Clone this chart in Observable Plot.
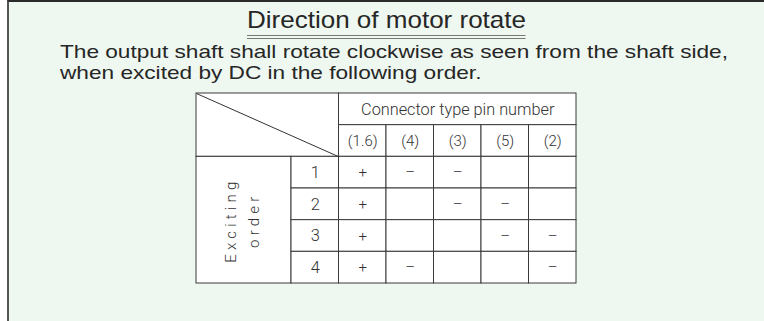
<!DOCTYPE html>
<html><head><meta charset="utf-8">
<script src="https://cdn.jsdelivr.net/npm/d3@7"></script>
<script src="https://cdn.jsdelivr.net/npm/@observablehq/plot@0.6"></script>
<style>
html,body{margin:0;padding:0;background:#fff;}
#page{position:relative;width:764px;height:321px;overflow:hidden;}
#box{position:absolute;left:7px;top:0;width:800px;height:340px;background:#eef7f0;border-left:2px solid #555;border-top:2px solid #2a2a2a;box-sizing:border-box;}
.t{position:absolute;white-space:nowrap;font-family:"Liberation Sans",Arial,sans-serif;color:#262626;transform-origin:0 0;}
#title{font-size:24px;line-height:28px;top:6px;border-bottom:4px double #777;padding:0 0 1px 0;}
#body{font-size:18.5px;line-height:21px;top:40.5px;}
#body div{height:21px;}
#page svg{position:absolute;left:0;top:0;}
</style></head>
<body>
<div id="page"><div id="box"></div>
<div class="t" id="title"></div>
<div class="t" id="body"></div>
</div>
<script>
// ---- data ----
const titleText = "Direction of motor rotate";
const bodyLines = [
  "The output shaft shall rotate clockwise as seen from the shaft side,",
  "when excited by DC in the following order."
];
const headerText = "Connector type pin number";
const pins = ["(1.6)", "(4)", "(3)", "(5)", "(2)"];
const steps = ["1", "2", "3", "4"];
const signs = [
  ["+", "–", "–", "", ""],
  ["+", "", "–", "–", ""],
  ["+", "", "", "–", "–"],
  ["+", "–", "", "", "–"]
];
const rowLabel = ["Exciting", "order"];

// ---- heading text (scaled to the reference widths) ----
const title = document.getElementById("title");
title.textContent = titleText;
title.style.left = "247px";
title.style.transform = `scaleX(${279 / title.getBoundingClientRect().width})`;

const body = document.getElementById("body");
const spans = bodyLines.map(line => {
  const dv = document.createElement("div");
  const sp = document.createElement("span");
  sp.textContent = line;
  dv.appendChild(sp);
  body.appendChild(dv);
  return sp;
});
body.style.left = "60px";
body.style.transform = `scaleX(${668 / spans[0].getBoundingClientRect().width})`;

// ---- table grid built from the arrays ----
// x units: label column [0,2], step column [2,3], pin j [3+j,4+j]
// y units: header rows [0,1],[1,2], step i [2+i,3+i]
const nCols = 3 + pins.length;
const nRows = 2 + steps.length;
const cells = [
  {x1: 0, x2: 3, y1: 0, y2: 2},
  {x1: 3, x2: nCols, y1: 0, y2: 1},
  ...pins.map((p, j) => ({x1: 3 + j, x2: 4 + j, y1: 1, y2: 2})),
  {x1: 0, x2: 2, y1: 2, y2: nRows},
  ...steps.flatMap((st, i) => d3.range(pins.length + 1).map(k => ({x1: 2 + k, x2: 3 + k, y1: 2 + i, y2: 3 + i})))
];
const diag = [{x1: 0, y1: 0, x2: 3, y2: 2}];
const headerLabels = [{x: 3 + pins.length / 2, y: 0.5, t: headerText}];
const pinLabels = pins.map((p, j) => ({x: 3.5 + j, y: 1.5, t: p}));
const stepLabels = steps.map((st, i) => ({x: 2.5, y: 2.5 + i, t: st}));
const signLabels = steps.flatMap((st, i) => signs[i].map((v, j) => ({x: 3.5 + j, y: 2.5 + i, t: v}))).filter(d => d.t);
const sideLabels = rowLabel.map((t, k) => ({x: 0.74 + k * 0.48, y: 2 + steps.length / 2, t}));

const font = "Roboto, 'Liberation Sans', sans-serif";
const chart = Plot.plot({
  width: 764,
  height: 321,
  marginLeft: 196,
  marginRight: 188,
  marginTop: 93,
  marginBottom: 38,
  x: {domain: [0, nCols], axis: null},
  y: {domain: [0, nRows], reverse: true, axis: null},
  style: {background: "transparent", fontFamily: font, color: "#333"},
  marks: [
    Plot.rect(cells, {x1: "x1", x2: "x2", y1: "y1", y2: "y2", fill: "white", stroke: "#3a3a3a", strokeWidth: 1}),
    Plot.link(diag, {x1: "x1", y1: "y1", x2: "x2", y2: "y2", stroke: "#333", strokeWidth: 1}),
    Plot.text(headerLabels, {x: "x", y: "y", text: "t", fontSize: 16.3, fontWeight: 300, fill: "#333"}),
    Plot.text(pinLabels, {x: "x", y: "y", text: "t", fontSize: 15, fontWeight: 300, fill: "#333"}),
    Plot.text(stepLabels, {x: "x", y: "y", text: "t", fontSize: 16.5, fontWeight: 300, fill: "#333"}),
    Plot.text(signLabels, {x: "x", y: "y", text: "t", fontSize: 15, fontWeight: 300, fill: "#333"}),
    Plot.text(sideLabels, {x: "x", y: "y", text: "t", rotate: -90, fontSize: 15, fontWeight: 300, fill: "#333"})
  ]
});
d3.select(chart).selectAll("text")
  .filter(function() { return rowLabel.includes(this.textContent); })
  .attr("letter-spacing", "4.2px")
  .style("letter-spacing", "4.2px");
document.getElementById("page").appendChild(chart);
</script>
</body></html>
